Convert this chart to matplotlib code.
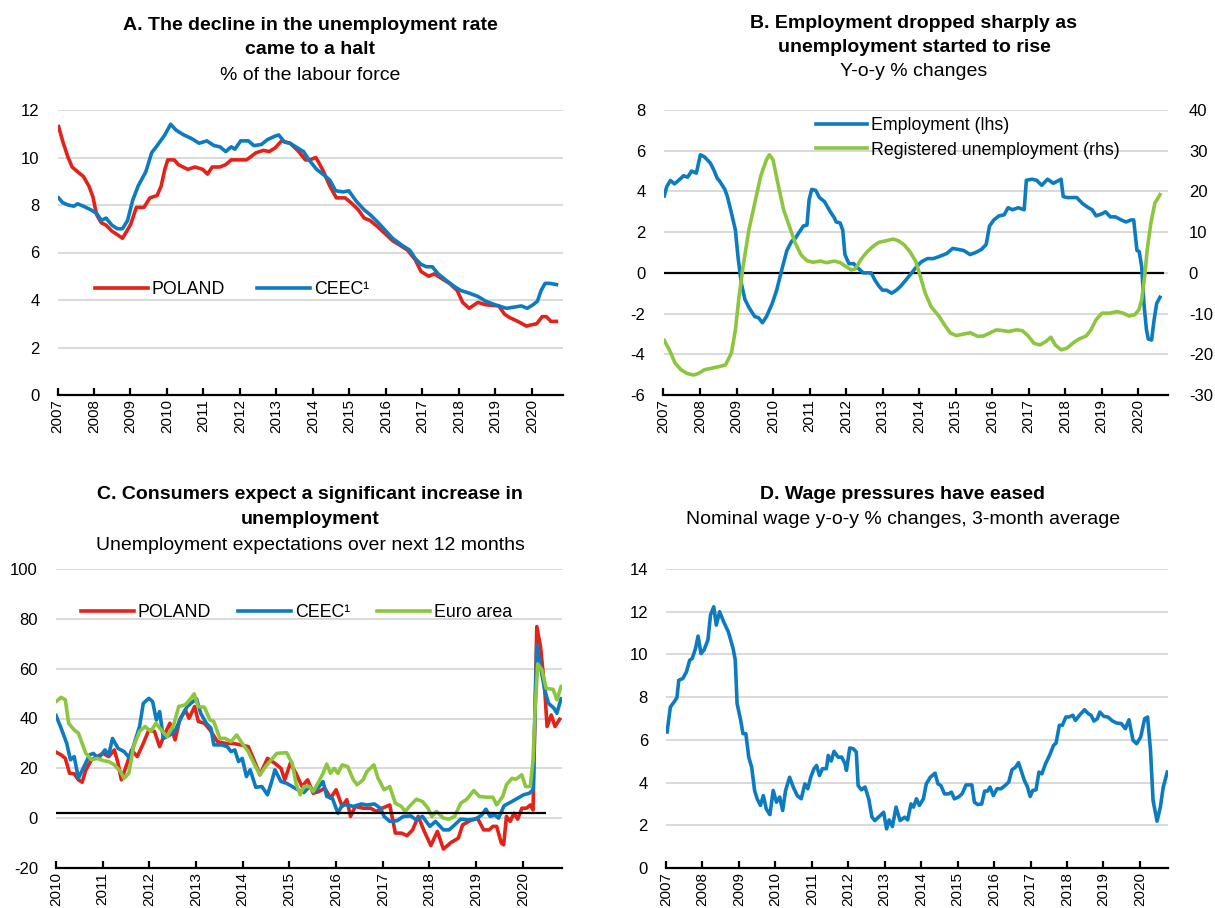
import numpy as np
import matplotlib.pyplot as plt

plt.rcParams['font.family'] = ['Liberation Sans', 'DejaVu Sans']
plt.rcParams['axes.unicode_minus'] = False

RED = '#E2231A'
BLUE = '#0C7BC0'
GREEN = '#8CC63F'
GRID = '#D9D9D9'

# Panel A: unemployment rate, % of labour force
a_pl_t = [2007.03, 2007.14, 2007.29, 2007.40, 2007.55, 2007.71, 2007.86, 2007.97, 2008.07, 2008.20,
          2008.33, 2008.49, 2008.64, 2008.78, 2008.90, 2009.01, 2009.16, 2009.37, 2009.53, 2009.73,
          2009.84, 2009.94, 2010.02, 2010.20, 2010.31, 2010.57, 2010.77, 2010.98, 2011.11, 2011.24,
          2011.45, 2011.61, 2011.76, 2012.18, 2012.44, 2012.64, 2012.80, 2012.96, 2013.14, 2013.37,
          2013.58, 2013.79, 2013.91, 2014.08, 2014.26, 2014.46, 2014.64, 2014.88, 2015.04, 2015.24,
          2015.40, 2015.56, 2015.76, 2015.97, 2016.18, 2016.39, 2016.59, 2016.80, 2016.96, 2017.17,
          2017.32, 2017.53, 2017.74, 2017.95, 2018.10, 2018.28, 2018.52, 2018.73, 2019.09, 2019.25,
          2019.40, 2019.61, 2019.85, 2019.97, 2020.13, 2020.28, 2020.39, 2020.52, 2020.67]
a_pl = [11.3, 10.7, 10.0, 9.6, 9.4, 9.2, 8.8, 8.35, 7.6, 7.25,
        7.15, 6.9, 6.75, 6.6, 6.9, 7.2, 7.9, 7.9, 8.3, 8.4,
        8.8, 9.5, 9.9, 9.9, 9.7, 9.5, 9.6, 9.5, 9.3, 9.6,
        9.6, 9.7, 9.9, 9.9, 10.2, 10.3, 10.25, 10.4, 10.7, 10.6,
        10.3, 9.9, 9.9, 10.0, 9.5, 8.8, 8.3, 8.3, 8.1, 7.8,
        7.45, 7.35, 7.1, 6.8, 6.5, 6.3, 6.1, 5.7, 5.2, 5.0,
        5.1, 4.9, 4.7, 4.4, 3.9, 3.65, 3.9, 3.8, 3.75, 3.4,
        3.25, 3.1, 2.9, 2.95, 3.0, 3.3, 3.3, 3.1, 3.1]
a_ceec_t = [2007.03, 2007.14, 2007.29, 2007.45, 2007.55, 2007.71, 2007.91, 2008.07, 2008.20, 2008.33,
            2008.49, 2008.64, 2008.78, 2008.92, 2009.06, 2009.21, 2009.42, 2009.58, 2009.73, 2009.94,
            2010.10, 2010.25, 2010.46, 2010.67, 2010.88, 2011.09, 2011.29, 2011.45, 2011.61, 2011.76,
            2011.86, 2012.02, 2012.23, 2012.38, 2012.59, 2012.75, 2012.96, 2013.06, 2013.22, 2013.37,
            2013.58, 2013.74, 2013.89, 2014.10, 2014.31, 2014.46, 2014.62, 2014.83, 2014.98, 2015.19,
            2015.40, 2015.56, 2015.76, 2015.97, 2016.18, 2016.44, 2016.65, 2016.80, 2016.96, 2017.11,
            2017.27, 2017.43, 2017.63, 2017.89, 2018.05, 2018.26, 2018.52, 2018.73, 2018.99, 2019.30,
            2019.51, 2019.71, 2019.87, 2020.03, 2020.15, 2020.25, 2020.36, 2020.49, 2020.67]
a_ceec = [8.3, 8.1, 8.0, 7.95, 8.05, 7.95, 7.8, 7.65, 7.35, 7.45,
          7.15, 7.0, 7.0, 7.35, 8.2, 8.8, 9.4, 10.2, 10.5, 10.95,
          11.4, 11.15, 10.95, 10.8, 10.6, 10.7, 10.5, 10.45, 10.25, 10.45,
          10.35, 10.7, 10.7, 10.5, 10.55, 10.75, 10.9, 10.95, 10.65, 10.6,
          10.4, 10.25, 9.9, 9.5, 9.25, 9.05, 8.6, 8.55, 8.6, 8.15,
          7.8, 7.6, 7.3, 6.95, 6.6, 6.3, 6.1, 5.75, 5.5, 5.4,
          5.4, 5.1, 4.85, 4.55, 4.4, 4.3, 4.15, 3.95, 3.8, 3.65,
          3.7, 3.75, 3.65, 3.8, 3.95, 4.4, 4.7, 4.7, 4.65]

# Panel B: employment (lhs) and registered unemployment (rhs), y-o-y %
b_emp_t = [2007.02, 2007.09, 2007.19, 2007.30, 2007.43, 2007.55, 2007.66, 2007.77, 2007.90, 2008.01,
           2008.12, 2008.28, 2008.38, 2008.47, 2008.54, 2008.68, 2008.75, 2008.86, 2008.97, 2009.04,
           2009.13, 2009.23, 2009.34, 2009.50, 2009.60, 2009.71, 2009.82, 2009.98, 2010.10, 2010.24,
           2010.38, 2010.51, 2010.61, 2010.72, 2010.83, 2010.93, 2010.99, 2011.06, 2011.17, 2011.27,
           2011.41, 2011.57, 2011.68, 2011.73, 2011.84, 2011.91, 2011.97, 2012.08, 2012.21, 2012.32,
           2012.47, 2012.69, 2012.79, 2012.90, 2013.00, 2013.11, 2013.25, 2013.38, 2013.50, 2013.64,
           2013.80, 2013.93, 2014.07, 2014.23, 2014.39, 2014.55, 2014.76, 2014.92, 2015.08, 2015.22,
           2015.40, 2015.55, 2015.71, 2015.84, 2015.93, 2016.05, 2016.19, 2016.33, 2016.44, 2016.56,
           2016.72, 2016.88, 2016.94, 2017.10, 2017.22, 2017.36, 2017.52, 2017.68, 2017.89, 2017.95,
           2018.05, 2018.32, 2018.48, 2018.64, 2018.74, 2018.85, 2019.01, 2019.11, 2019.24, 2019.38,
           2019.54, 2019.67, 2019.81, 2019.88, 2019.97, 2020.03, 2020.10, 2020.16, 2020.23, 2020.28,
           2020.37, 2020.44, 2020.51, 2020.60]
b_emp = [3.78, 4.24, 4.54, 4.37, 4.57, 4.77, 4.7, 5.0, 4.9, 5.8,
         5.7, 5.4, 5.05, 4.65, 4.5, 4.1, 3.75, 2.95, 2.1, 0.8,
         -0.5, -1.3, -1.7, -2.15, -2.2, -2.45, -2.15, -1.5, -0.85, 0.15,
         1.1, 1.55, 1.7, 2.0, 2.3, 2.35, 3.6, 4.1, 4.05, 3.7,
         3.5, 3.0, 2.7, 2.5, 2.45, 2.1, 0.9, 0.45, 0.45, 0.25,
         0.0, 0.0, -0.35, -0.65, -0.85, -0.85, -1.0, -0.85, -0.65, -0.35,
         0.0, 0.3, 0.55, 0.7, 0.7, 0.8, 0.95, 1.2, 1.15, 1.1,
         0.9, 1.0, 1.15, 1.4, 2.3, 2.6, 2.8, 2.85, 3.2, 3.1,
         3.2, 3.1, 4.55, 4.6, 4.55, 4.3, 4.6, 4.4, 4.6, 3.75,
         3.7, 3.7, 3.4, 3.2, 3.1, 2.8, 2.9, 3.0, 2.75, 2.75,
         2.6, 2.5, 2.6, 2.6, 1.1, 1.05, 0.3, -1.5, -2.8, -3.25,
         -3.3, -2.3, -1.5, -1.2]
b_unemp_t = [2007.02, 2007.16, 2007.32, 2007.48, 2007.64, 2007.83, 2007.96, 2008.12, 2008.33, 2008.54,
             2008.70, 2008.86, 2008.97, 2009.07, 2009.18, 2009.34, 2009.50, 2009.66, 2009.82, 2009.90,
             2010.00, 2010.13, 2010.29, 2010.45, 2010.61, 2010.77, 2010.93, 2011.09, 2011.30, 2011.46,
             2011.68, 2011.84, 2011.99, 2012.15, 2012.26, 2012.40, 2012.58, 2012.74, 2012.90, 2013.11,
             2013.29, 2013.43, 2013.59, 2013.75, 2013.91, 2014.01, 2014.17, 2014.33, 2014.55, 2014.70,
             2014.86, 2015.02, 2015.24, 2015.40, 2015.61, 2015.77, 2015.93, 2016.12, 2016.30, 2016.46,
             2016.67, 2016.83, 2016.99, 2017.15, 2017.31, 2017.47, 2017.61, 2017.73, 2017.89, 2018.05,
             2018.21, 2018.37, 2018.58, 2018.71, 2018.85, 2019.01, 2019.22, 2019.43, 2019.59, 2019.75,
             2019.91, 2020.02, 2020.10, 2020.18, 2020.25, 2020.35, 2020.46, 2020.60]
b_unemp = [-16.6, -18.9, -22.2, -23.8, -24.7, -25.1, -24.7, -23.8, -23.4, -23.0,
           -22.6, -19.7, -14.0, -5.8, 1.6, 10.6, 17.1, 23.7, 27.8, 29.0,
           27.8, 22.1, 15.5, 11.4, 7.3, 4.4, 3.0, 2.6, 2.9, 2.5,
           2.9, 2.5, 1.6, 0.7, 1.0, 3.2, 5.2, 6.5, 7.5, 7.9,
           8.3, 7.9, 6.9, 5.2, 2.8, -0.1, -5.0, -8.3, -10.7, -12.8,
           -14.8, -15.4, -15.0, -14.7, -15.6, -15.5, -14.8, -14.0, -14.2, -14.4,
           -14.0, -14.2, -15.5, -17.3, -17.7, -16.9, -15.8, -17.7, -18.9, -18.5,
           -17.3, -16.3, -15.5, -14.0, -11.5, -9.9, -9.9, -9.5, -9.9, -10.6,
           -10.3, -9.1, -6.6, -0.9, 5.7, 12.2, 17.1, 19.2]

# Panel C: unemployment expectations over next 12 months
c_pl_t = [2010.00, 2010.11, 2010.20, 2010.29, 2010.39, 2010.48, 2010.56, 2010.64, 2010.76, 2010.88,
          2011.01, 2011.13, 2011.25, 2011.33, 2011.40, 2011.50, 2011.62, 2011.74, 2011.87, 2011.99,
          2012.11, 2012.22, 2012.32, 2012.44, 2012.55, 2012.65, 2012.77, 2012.85, 2012.97, 2013.05,
          2013.18, 2013.30, 2013.46, 2013.63, 2013.79, 2013.96, 2014.12, 2014.24, 2014.37, 2014.53,
          2014.69, 2014.82, 2014.90, 2015.02, 2015.14, 2015.27, 2015.39, 2015.51, 2015.63, 2015.76,
          2015.88, 2016.00, 2016.13, 2016.23, 2016.31, 2016.41, 2016.58, 2016.74, 2016.86, 2016.99,
          2017.15, 2017.27, 2017.40, 2017.52, 2017.64, 2017.76, 2017.89, 2018.03, 2018.17, 2018.30,
          2018.46, 2018.62, 2018.71, 2018.87, 2019.03, 2019.16, 2019.28, 2019.36, 2019.44, 2019.54,
          2019.59, 2019.65, 2019.73, 2019.81, 2019.89, 2019.98, 2020.08, 2020.16, 2020.22, 2020.26,
          2020.30, 2020.38, 2020.47, 2020.52, 2020.61, 2020.69, 2020.79]
c_pl = [26.5, 25.4, 24.0, 18.0, 17.8, 15.4, 14.4, 19.4, 23.4, 24.7,
        26.0, 24.7, 27.4, 22.0, 15.4, 20.7, 27.4, 24.7, 30.0, 35.4,
        34.8, 28.7, 33.4, 38.1, 31.4, 39.4, 43.4, 40.1, 44.8, 38.8,
        38.1, 35.4, 30.7, 30.0, 30.0, 29.4, 28.7, 23.4, 17.4, 24.0,
        22.0, 20.0, 15.4, 22.0, 18.0, 12.7, 15.4, 10.0, 10.7, 12.0,
        8.0, 11.4, 4.7, 7.4, 0.7, 4.7, 4.0, 4.0, 2.7, 4.0,
        5.3, -6.0, -6.0, -7.0, -4.7, 0.7, -5.3, -11.0, -5.3, -12.4,
        -9.8, -8.0, -2.7, -1.0, 0.0, -4.7, -4.7, -3.3, -3.3, -10.0,
        -10.7, 0.7, -1.3, 2.0, -0.4, 4.0, 4.0, 5.3, 3.3, 40.8,
        76.9, 68.9, 51.5, 36.8, 41.4, 36.8, 39.7]
c_ceec_t = [2010.00, 2010.11, 2010.23, 2010.31, 2010.39, 2010.48, 2010.60, 2010.72, 2010.80, 2010.91,
            2011.05, 2011.13, 2011.21, 2011.33, 2011.46, 2011.58, 2011.70, 2011.79, 2011.87, 2011.99,
            2012.07, 2012.15, 2012.22, 2012.30, 2012.44, 2012.56, 2012.69, 2012.81, 2012.89, 2013.01,
            2013.10, 2013.22, 2013.32, 2013.38, 2013.55, 2013.67, 2013.75, 2013.83, 2013.91, 2013.99,
            2014.08, 2014.16, 2014.28, 2014.41, 2014.53, 2014.61, 2014.69, 2014.82, 2014.94, 2015.06,
            2015.18, 2015.31, 2015.43, 2015.55, 2015.72, 2015.80, 2015.92, 2016.04, 2016.13, 2016.25,
            2016.37, 2016.54, 2016.66, 2016.82, 2016.95, 2017.03, 2017.15, 2017.31, 2017.44, 2017.60,
            2017.72, 2017.85, 2018.01, 2018.13, 2018.30, 2018.42, 2018.54, 2018.67, 2018.83, 2018.99,
            2019.12, 2019.21, 2019.30, 2019.40, 2019.48, 2019.60, 2019.77, 2019.89, 2020.02, 2020.14,
            2020.22, 2020.26, 2020.30, 2020.38, 2020.47, 2020.55, 2020.67, 2020.73, 2020.82]
c_ceec = [41.2, 36.1, 30.0, 23.4, 24.7, 16.0, 20.7, 25.4, 26.0, 24.0,
          27.4, 25.4, 32.0, 28.0, 26.7, 24.0, 31.4, 36.8, 46.1, 48.1,
          46.8, 39.4, 42.8, 32.0, 33.4, 35.4, 40.8, 44.8, 46.1, 47.9,
          42.1, 38.1, 36.1, 29.4, 29.4, 28.7, 26.7, 27.4, 22.7, 24.0,
          16.7, 19.4, 12.4, 12.7, 9.4, 14.0, 19.4, 14.7, 14.0, 12.7,
          11.4, 10.3, 12.7, 10.7, 14.7, 8.7, 8.0, 2.0, 5.3, 5.3,
          4.7, 5.7, 5.3, 5.7, 4.0, 0.7, -1.3, -1.0, 0.7, 0.9,
          -0.7, 0.7, -3.3, -1.3, -4.7, -4.7, -2.7, -0.4, -0.7, -0.4,
          1.3, 3.6, 0.7, 1.3, 0.0, 5.0, 6.7, 8.0, 9.4, 10.0,
          11.4, 40.8, 69.5, 60.8, 51.5, 46.1, 44.1, 42.1, 47.9]
c_ea_t = [2010.00, 2010.11, 2010.20, 2010.27, 2010.39, 2010.48, 2010.56, 2010.64, 2010.76, 2010.88,
          2011.01, 2011.13, 2011.25, 2011.38, 2011.46, 2011.56, 2011.66, 2011.79, 2011.91, 2012.03,
          2012.14, 2012.28, 2012.38, 2012.52, 2012.63, 2012.77, 2012.89, 2012.96, 2013.04, 2013.18,
          2013.30, 2013.38, 2013.51, 2013.63, 2013.75, 2013.87, 2013.99, 2014.12, 2014.24, 2014.37,
          2014.49, 2014.61, 2014.73, 2014.94, 2015.06, 2015.14, 2015.23, 2015.31, 2015.43, 2015.51,
          2015.63, 2015.72, 2015.80, 2015.88, 2015.96, 2016.04, 2016.13, 2016.25, 2016.37, 2016.45,
          2016.58, 2016.66, 2016.81, 2016.90, 2017.03, 2017.15, 2017.27, 2017.40, 2017.48, 2017.60,
          2017.72, 2017.85, 2017.97, 2018.05, 2018.15, 2018.30, 2018.42, 2018.54, 2018.67, 2018.80,
          2018.95, 2019.07, 2019.24, 2019.36, 2019.44, 2019.57, 2019.65, 2019.77, 2019.85, 2019.98,
          2020.06, 2020.16, 2020.22, 2020.26, 2020.32, 2020.41, 2020.50, 2020.65, 2020.73, 2020.82]
c_ea = [46.8, 48.5, 47.5, 38.1, 35.4, 34.1, 30.0, 26.0, 23.4, 24.0,
        23.1, 22.7, 21.4, 18.7, 16.0, 18.0, 28.7, 34.8, 36.8, 34.8,
        38.1, 34.8, 32.8, 37.4, 44.8, 45.5, 48.1, 49.9, 44.8, 44.5,
        39.4, 38.8, 32.0, 32.0, 30.7, 33.4, 30.0, 26.7, 22.0, 17.4,
        20.7, 23.4, 26.0, 26.3, 22.0, 14.0, 9.4, 12.7, 12.7, 10.7,
        14.7, 18.0, 21.7, 18.0, 20.0, 18.0, 21.4, 20.7, 15.4, 13.4,
        15.4, 18.7, 21.4, 16.0, 11.4, 12.7, 6.0, 4.7, 2.7, 5.3,
        7.6, 6.7, 4.0, 0.7, 2.7, 0.0, -0.4, 0.7, 6.0, 7.6,
        11.1, 8.7, 8.4, 8.4, 5.3, 8.7, 13.4, 16.0, 15.6, 17.4,
        12.7, 12.7, 23.4, 42.1, 61.9, 59.5, 52.1, 51.7, 47.5, 52.8]

# Panel D: nominal wage growth, y-o-y %, 3-month average
d_t = [2007.03, 2007.12, 2007.22, 2007.30, 2007.35, 2007.46, 2007.56, 2007.65, 2007.72, 2007.81,
       2007.88, 2007.96, 2008.04, 2008.15, 2008.22, 2008.31, 2008.38, 2008.47, 2008.58, 2008.71,
       2008.84, 2008.90, 2008.95, 2009.05, 2009.11, 2009.19, 2009.27, 2009.35, 2009.43, 2009.50,
       2009.59, 2009.67, 2009.75, 2009.85, 2009.94, 2010.03, 2010.12, 2010.20, 2010.28, 2010.39,
       2010.49, 2010.60, 2010.71, 2010.81, 2010.89, 2010.97, 2011.06, 2011.13, 2011.21, 2011.29,
       2011.40, 2011.45, 2011.53, 2011.61, 2011.72, 2011.82, 2011.91, 2011.95, 2012.04, 2012.14,
       2012.22, 2012.27, 2012.36, 2012.46, 2012.56, 2012.65, 2012.73, 2012.83, 2012.97, 2013.05,
       2013.12, 2013.21, 2013.31, 2013.42, 2013.55, 2013.63, 2013.72, 2013.79, 2013.87, 2013.95,
       2014.06, 2014.14, 2014.25, 2014.38, 2014.46, 2014.54, 2014.64, 2014.75, 2014.83, 2014.91,
       2015.02, 2015.12, 2015.23, 2015.39, 2015.46, 2015.55, 2015.66, 2015.74, 2015.82, 2015.89,
       2015.98, 2016.08, 2016.19, 2016.30, 2016.40, 2016.49, 2016.59, 2016.67, 2016.74, 2016.83,
       2016.91, 2016.99, 2017.06, 2017.15, 2017.23, 2017.31, 2017.41, 2017.52, 2017.63, 2017.70,
       2017.79, 2017.87, 2017.97, 2018.05, 2018.16, 2018.23, 2018.34, 2018.48, 2018.58, 2018.66,
       2018.74, 2018.83, 2018.90, 2019.01, 2019.12, 2019.25, 2019.36, 2019.49, 2019.60, 2019.70,
       2019.81, 2019.91, 2020.02, 2020.13, 2020.21, 2020.29, 2020.36, 2020.47, 2020.56, 2020.64,
       2020.75]
d_wage = [6.37, 7.54, 7.77, 7.98, 8.79, 8.87, 9.18, 9.73, 9.81, 10.28,
          10.86, 10.04, 10.2, 10.67, 11.84, 12.23, 11.37, 12.0, 11.53, 11.06,
          10.28, 9.73, 7.7, 6.91, 6.29, 6.29, 5.19, 4.72, 3.63, 3.24,
          2.93, 3.39, 2.77, 2.5, 3.63, 3.08, 3.32, 2.69, 3.63, 4.25,
          3.79, 3.39, 3.24, 3.94, 3.71, 4.25, 4.65, 4.8, 4.33, 4.65,
          4.65, 5.27, 5.01, 5.46, 5.19, 5.19, 4.88, 4.57, 5.62, 5.58,
          5.43, 3.86, 3.66, 3.79, 3.24, 2.38, 2.22, 2.38, 2.61, 1.83,
          2.25, 1.94, 2.85, 2.22, 2.38, 2.25, 3.0, 2.85, 3.24, 2.93,
          3.24, 3.94, 4.25, 4.44, 3.94, 3.86, 3.47, 3.47, 3.55, 3.24,
          3.32, 3.47, 3.89, 3.89, 3.08, 2.97, 3.0, 3.6, 3.6, 3.79,
          3.39, 3.71, 3.71, 3.86, 4.02, 4.6, 4.72, 4.93, 4.57, 4.1,
          3.82, 3.35, 3.63, 3.66, 4.49, 4.41, 4.88, 5.27, 5.74, 5.85,
          6.68, 6.68, 7.07, 7.07, 7.15, 6.91, 7.15, 7.41, 7.23, 7.15,
          6.88, 6.99, 7.3, 7.1, 7.07, 6.88, 6.79, 6.76, 6.52, 6.94,
          5.98, 5.82, 6.13, 6.99, 7.07, 5.51, 3.16, 2.19, 2.85, 3.79,
          4.49]

years_a = list(range(2007, 2021))
years_c = list(range(2010, 2021))

LW = 2.6
TICK_FS = 12
XTICK_FS = 11
TITLE_FS = 14
LEG_FS = 12.8


def style_axis(ax, xlim, ylim, yticks, years):
    ax.set_xlim(*xlim)
    ax.set_ylim(*ylim)
    ax.set_yticks(yticks)
    ax.set_xticks(years)
    ax.set_xticklabels([str(y) for y in years], rotation=90, fontsize=XTICK_FS)
    for s in ['top', 'right', 'left']:
        ax.spines[s].set_visible(False)
    ax.spines['bottom'].set_linewidth(1.6)
    ax.tick_params(axis='x', direction='in', length=5, width=1.6, pad=3)
    ax.tick_params(axis='y', length=0, pad=13, labelsize=TICK_FS)
    ax.grid(axis='y', color=GRID, lw=1.4)
    ax.grid(axis='x', visible=False)
    ax.set_axisbelow(True)


def panel_title(fig, x, ys, lines, sub):
    for y, line in zip(ys[:-1], lines):
        fig.text(x, y, line, ha='center', va='center', fontsize=TITLE_FS, fontweight='bold')
    fig.text(x, ys[-1], sub, ha='center', va='center', fontsize=TITLE_FS)


def py(px):
    # pixel row from the top -> figure fraction
    return 1 - px / 908


fig = plt.figure(figsize=(12.15, 9.08), dpi=100)

# A
ax_a = fig.add_axes([57.5 / 1215, py(395), 505.5 / 1215, 285 / 908])
ax_a.plot(a_pl_t, a_pl, color=RED, lw=LW, label='POLAND')
ax_a.plot(a_ceec_t, a_ceec, color=BLUE, lw=LW, label='CEEC¹')
style_axis(ax_a, (2007, 2020.85), (0, 12), np.arange(0, 13, 2), years_a)
ax_a.legend(loc='center', bbox_to_anchor=(0.345, 0.37), ncol=2, frameon=False, fontsize=LEG_FS,
            handlelength=3.0, handletextpad=0.2, columnspacing=1.8)
panel_title(fig, 310 / 1215, [py(25), py(50), py(76)],
            ['A. The decline in the unemployment rate', 'came to a halt'], '% of the labour force')

# B
ax_b = fig.add_axes([663.5 / 1215, py(395), 504.5 / 1215, 285 / 908])
ax_b.hlines(0, 2007, 2020.7, color='black', lw=1.6, zorder=2)
l1, = ax_b.plot(b_emp_t, b_emp, color=BLUE, lw=LW, label='Employment (lhs)', zorder=3)
style_axis(ax_b, (2007, 2020.82), (-6, 8), np.arange(-6, 9, 2), years_a)
ax_b2 = ax_b.twinx()
l2, = ax_b2.plot(b_unemp_t, b_unemp, color=GREEN, lw=LW, label='Registered unemployment (rhs)')
ax_b2.set_ylim(-30, 40)
ax_b2.set_yticks(np.arange(-30, 41, 10))
for s in ax_b2.spines.values():
    s.set_visible(False)
ax_b2.tick_params(axis='y', length=0, pad=15, labelsize=TICK_FS)
ax_b2.legend([l1, l2], ['Employment (lhs)', 'Registered unemployment (rhs)'], loc='upper left',
             bbox_to_anchor=(0.27, 1.03), frameon=False, fontsize=LEG_FS, handlelength=2.9,
             handletextpad=0.2, labelspacing=0.4)
panel_title(fig, 914 / 1215, [py(23), py(48), py(72)],
            ['B. Employment dropped sharply as', 'unemployment started to rise'], 'Y-o-y % changes')

# C
ax_c = fig.add_axes([56 / 1215, py(868), 506 / 1215, 299 / 908])
ax_c.hlines(2, 2010, 2020.5, color='black', lw=1.6, zorder=4)
ax_c.plot(c_pl_t, c_pl, color=RED, lw=LW, label='POLAND', zorder=3)
ax_c.plot(c_ceec_t, c_ceec, color=BLUE, lw=LW, label='CEEC¹', zorder=3)
ax_c.plot(c_ea_t, c_ea, color=GREEN, lw=LW, label='Euro area', zorder=3)
style_axis(ax_c, (2010, 2020.84), (-20, 100), np.arange(-20, 101, 20), years_c)
ax_c.legend(loc='center', bbox_to_anchor=(0.475, 0.853), ncol=3, frameon=False, fontsize=LEG_FS,
            handlelength=3.0, handletextpad=0.2, columnspacing=1.5)
panel_title(fig, 310 / 1215, [py(495), py(520), py(545)],
            ['C. Consumers expect a significant increase in', 'unemployment'],
            'Unemployment expectations over next 12 months')

# D
ax_d = fig.add_axes([666 / 1215, py(868), 502 / 1215, 299 / 908])
ax_d.plot(d_t, d_wage, color=BLUE, lw=LW)
style_axis(ax_d, (2007, 2020.77), (0, 14), np.arange(0, 15, 2), years_a)
panel_title(fig, 903 / 1215, [py(495), py(520)],
            ['D. Wage pressures have eased'], 'Nominal wage y-o-y % changes, 3-month average')

fig.savefig('out.png', dpi=100)
